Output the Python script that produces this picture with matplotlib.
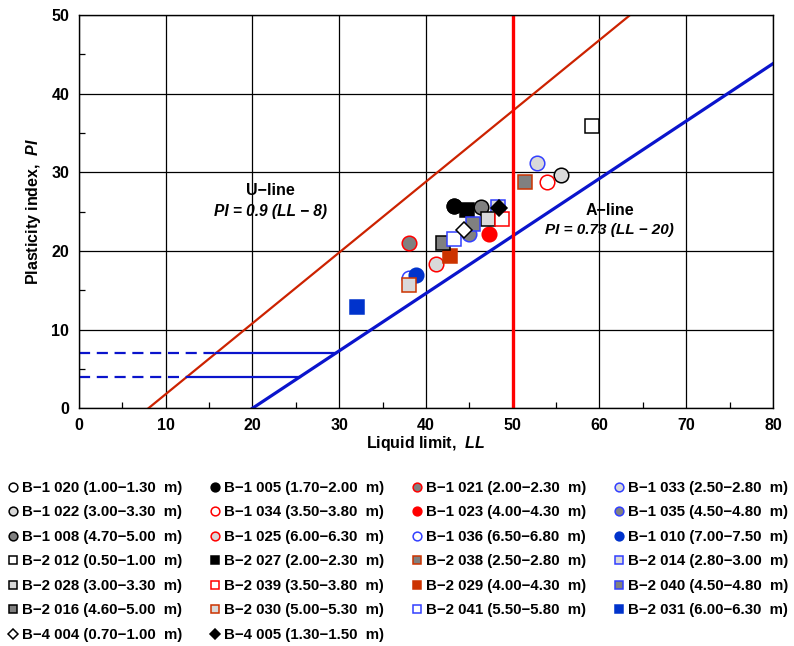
import numpy as np
import matplotlib.pyplot as plt

plt.rcParams['font.family'] = ['Liberation Sans', 'DejaVu Sans']
plt.rcParams['font.weight'] = 'bold'
plt.rcParams['mathtext.fontset'] = 'custom'
plt.rcParams['mathtext.it'] = 'Liberation Sans:italic:bold'
plt.rcParams['mathtext.rm'] = 'Liberation Sans:bold'

# ==============================
# Data (series order = drawing order)
# ==============================
labels = [
    "B−1 020 (1.00−1.30  m)", "B−1 005 (1.70−2.00  m)", "B−1 021 (2.00−2.30  m)", "B−1 033 (2.50−2.80  m)",
    "B−1 022 (3.00−3.30  m)", "B−1 034 (3.50−3.80  m)", "B−1 023 (4.00−4.30  m)", "B−1 035 (4.50−4.80  m)",
    "B−1 008 (4.70−5.00  m)", "B−1 025 (6.00−6.30  m)", "B−1 036 (6.50−6.80  m)", "B−1 010 (7.00−7.50  m)",
    "B−2 012 (0.50−1.00  m)", "B−2 027 (2.00−2.30  m)", "B−2 038 (2.50−2.80  m)", "B−2 014 (2.80−3.00  m)",
    "B−2 028 (3.00−3.30  m)", "B−2 039 (3.50−3.80  m)", "B−2 029 (4.00−4.30  m)", "B−2 040 (4.50−4.80  m)",
    "B−2 016 (4.60−5.00  m)", "B−2 030 (5.00−5.30  m)", "B−2 041 (5.50−5.80  m)", "B−2 031 (6.00−6.30  m)",
    "B−4 004 (0.70−1.00  m)", "B−4 005 (1.30−1.50  m)",
]
ll = [43.2, 43.2, 38.0, 52.8,
      55.6, 53.9, 47.3, 45.0,
      46.3, 41.1, 38.1, 38.9,
      59.1, 44.7, 51.4, 48.3,
      47.1, 48.8, 42.8, 45.4,
      42.0, 38.0, 43.2, 32.0,
      44.4, 48.4]
pi = [25.7, 25.7, 21.0, 31.2,
      29.6, 28.8, 22.1, 22.1,
      25.6, 18.3, 16.6, 16.9,
      35.9, 25.2, 28.8, 25.6,
      24.1, 24.0, 19.3, 23.4,
      21.0, 15.7, 21.5, 12.9,
      22.6, 25.4]

# styles
WH, LG, GR, BK = "white", "#D9D9D9", "#808080", "black"
RD, OR, BL, DB = "#FF0000", "#CC3300", "#3340FF", "#0033CC"
markers = ["o"] * 12 + ["s"] * 12 + ["D", "D"]
faces = [WH, BK, GR, LG,
         LG, WH, RD, GR,
         GR, LG, WH, DB,
         WH, BK, GR, LG,
         LG, WH, OR, GR,
         GR, LG, WH, DB,
         WH, BK]
edges = [BK, BK, RD, BL,
         BK, RD, RD, BL,
         BK, RD, BL, DB,
         BK, BK, OR, BL,
         BK, RD, OR, BL,
         BK, OR, BL, DB,
         BK, BK]

# reference lines
U_SLOPE, U_LL0 = 0.9, 8
A_SLOPE, A_LL0 = 0.73, 20
LL_BORDER = 50
PI_LIMITS = [4, 7]

fig = plt.figure(figsize=(7.94, 6.46), dpi=100)
ax = fig.add_axes([0.0995, 0.368, 0.874, 0.609])

ax.set_xlim(0, 80)
ax.set_ylim(0, 50)
ax.set_xticks(np.arange(0, 81, 10))
ax.set_yticks(np.arange(0, 51, 10))
ax.set_xticks(np.arange(5, 80, 10), minor=True)
ax.set_yticks(np.arange(5, 50, 10), minor=True)
ax.grid(True, which="major", color="black", linewidth=0.9, zorder=0)
ax.set_axisbelow(True)
ax.tick_params(which="both", direction="in", labelsize=11.5, pad=7)
ax.tick_params(which="major", length=0)
ax.tick_params(which="minor", length=4, width=0.9)
for lab in ax.get_xticklabels() + ax.get_yticklabels():
    lab.set_fontweight("bold")
for s in ax.spines.values():
    s.set_linewidth(1.0)

# U-line and A-line
u_top = 50 / U_SLOPE + U_LL0
ax.plot([U_LL0, u_top], [0, 50], color="#CC2200", lw=1.6, zorder=2)
ax.plot([A_LL0, 80], [0, A_SLOPE * (80 - A_LL0)], color="#0A14CC", lw=2.3, zorder=2)
ax.axvline(LL_BORDER, color="#FF0000", lw=2.4, zorder=2)
for p in PI_LIMITS:
    x_u = p / U_SLOPE + U_LL0
    x_a = p / A_SLOPE + A_LL0
    ax.plot([0, x_u], [p, p], color="#0A14CC", lw=1.6, ls=(0, (5, 3)), zorder=2)
    ax.plot([x_u, x_a], [p, p], color="#0A14CC", lw=1.6, zorder=2)

handles = []
for i in range(len(labels)):
    ms = 10.5 if markers[i] != "D" else 8
    h, = ax.plot(ll[i], pi[i], ls="none", marker=markers[i], ms=ms,
                 mfc=faces[i], mec=edges[i], mew=1.1, label=labels[i], zorder=3 + i * 0.01)
    handles.append(h)

ax.text(22.1, 27.7, "U−line", ha="center", va="center", fontsize=11.5, fontweight="bold")
ax.text(22.1, 25.0, "PI = 0.9 (LL − 8)", ha="center", va="center", fontsize=11.2,
        fontweight="bold", fontstyle="italic")
ax.text(61.2, 25.1, "A−line", ha="center", va="center", fontsize=11.5, fontweight="bold")
ax.text(61.2, 22.6, "PI = 0.73 (LL − 20)", ha="center", va="center", fontsize=11,
        fontweight="bold", fontstyle="italic")

ax.set_xlabel("Liquid limit,  $LL$", fontsize=11.5, fontweight="bold", labelpad=1)
ax.set_ylabel("Plasticity index,  $PI$", fontsize=11.5, fontweight="bold", labelpad=6)

# legend: row-wise order as in the chart -> column-major for matplotlib
order = [i for c in range(4) for i in range(c, len(labels), 4)]
fig.legend([handles[i] for i in order], [labels[i] for i in order],
           loc="upper left", bbox_to_anchor=(-0.004, 0.272), ncol=4, frameon=False,
           fontsize=10.8, markerscale=0.6, handlelength=0.7, handletextpad=0.25,
           columnspacing=1.85, labelspacing=0.7, borderaxespad=0.3)

fig.savefig("out.png", dpi=100)
